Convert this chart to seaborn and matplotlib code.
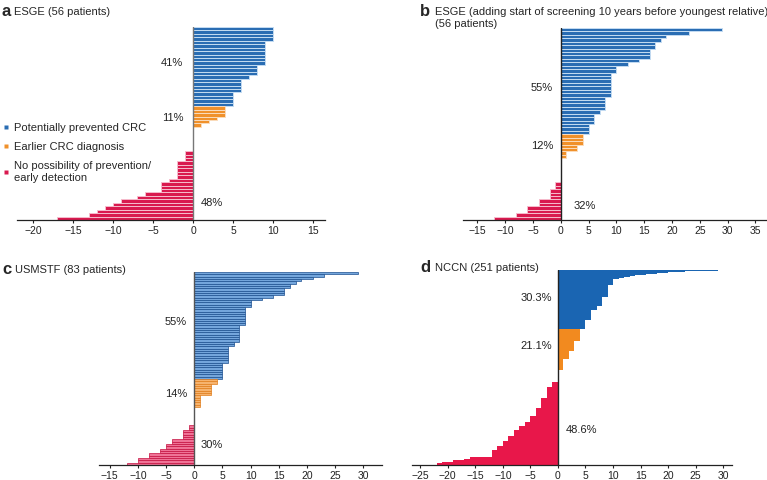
import numpy as np
import pandas as pd
import matplotlib
matplotlib.use("Agg")
import matplotlib.pyplot as plt
import seaborn as sns
from matplotlib.lines import Line2D
from matplotlib.colors import to_rgb

sns.set_style("white")
plt.rcParams['font.family'] = ['Liberation Sans', 'DejaVu Sans']

# values (years), with how many patients share each value
a_blue_vals, a_blue_n = [10, 9, 8, 7, 6, 5], [4, 7, 3, 1, 4, 4]
a_orange_vals, a_orange_n = [4, 3, 2, 1], [3, 1, 1, 1]
a_red_vals = [0, -1, -2, -3, -4, -6, -7, -9, -10, -11, -12, -13, -17]
a_red_n = [7, 3, 5, 1, 3, 1, 1, 1, 1, 1, 1, 1, 1]

b_blue_vals = [29, 23, 19, 18, 17, 16, 14, 12, 10, 9, 8, 7, 6, 5]
b_blue_n = [1, 1, 1, 1, 2, 3, 1, 1, 2, 7, 4, 1, 3, 3]
b_orange_vals, b_orange_n = [4, 3, 1], [3, 2, 2]
b_red_vals, b_red_n = [0, -1, -2, -4, -6, -8, -12], [7, 2, 3, 2, 2, 1, 1]

c_blue_vals = [29, 23, 21, 19, 18, 17, 16, 14, 12, 10, 9, 8, 7, 6, 5]
c_blue_n = [1, 1, 1, 1, 1, 2, 3, 1, 1, 3, 8, 7, 2, 7, 7]
c_orange_vals, c_orange_n = [4, 3, 1], [2, 5, 5]
c_red_vals = [0, -1, -2, -4, -5, -6, -8, -10, -12]
c_red_n = [8, 2, 4, 2, 2, 2, 2, 2, 1]

d_blue_vals = [29, 23, 22, 20, 18, 16, 15, 14, 13, 12, 11, 10, 9, 8, 7, 6, 5]
d_blue_n = [1, 1, 1, 1, 1, 1, 1, 1, 1, 1, 1, 8, 16, 11, 5, 14, 11]
d_orange_vals, d_orange_n = [4, 3, 2, 1], [16, 12, 11, 14]
d_red_vals = [0, -1, -2, -3, -4, -5, -6, -7, -8, -9, -10, -11, -12, -16, -17, -19, -21, -22]
d_red_n = [15, 7, 14, 12, 11, 8, 5, 5, 8, 6, 6, 6, 9, 2, 2, 2, 2, 2]

cats = ["Potentially prevented CRC", "Earlier CRC diagnosis",
        "No possibility of prevention/\nearly detection"]


def make_df(bv, bn, ov, on, rv, rn):
    vals = np.concatenate([np.repeat(bv, bn), np.repeat(ov, on), np.repeat(rv, rn)])
    cat = [cats[0]] * sum(bn) + [cats[1]] * sum(on) + [cats[2]] * sum(rn)
    return pd.DataFrame({"years": vals, "row": np.arange(len(vals)), "group": cat})


W, H = 767, 480
fig = plt.figure(figsize=(W / 100, H / 100), dpi=100)


def panel(df, box, xlim, ticks, palette, width, edges, elw, zcol, pct, letter, title, lpos, tpos):
    l, t, r, b = box
    ax = fig.add_axes([l / W, 1 - b / H, (r - l) / W, (b - t) / H])
    sns.barplot(data=df, x="years", y="row", hue="group", orient="y", palette=palette,
                hue_order=cats, dodge=False, width=width, errorbar=None, legend=False,
                saturation=1, ax=ax, linewidth=0)
    if edges is not None:
        lookup = {to_rgb(c): e for c, e in zip(palette, edges)}
        for p in ax.patches:
            fc = p.get_facecolor()[:3]
            for k, e in lookup.items():
                if np.allclose(fc, k, atol=0.01):
                    p.set_edgecolor(e)
                    p.set_linewidth(elw)
    n = len(df)
    ax.set_ylim(n - 0.5, -0.5)
    ax.set_xlim(*xlim)
    ax.set_xticks(ticks)
    ax.set_yticks([])
    ax.set_xlabel("")
    ax.set_ylabel("")
    for s in ["left", "top", "right"]:
        ax.spines[s].set_visible(False)
    ax.spines["bottom"].set_linewidth(0.9)
    ax.spines["bottom"].set_color("#222222")
    ax.tick_params(axis="x", direction="out", length=2.5, width=0.8, labelsize=7.5,
                   bottom=True, pad=1.5, colors="#222222")
    ax.axvline(0, color=zcol, lw=1.0, zorder=5)
    for x, y, s, ha in pct:
        ax.text(x, y, s, ha=ha, va="center", fontsize=8, color="#222222")
    fig.text(lpos[0] / W, 1 - lpos[1] / H, letter, fontsize=12, fontweight="bold",
             va="center", ha="left")
    fig.text(tpos[0] / W, 1 - tpos[1] / H, title, fontsize=8, va="center", ha="left",
             linespacing=1.2)
    return ax


pal_ab = ["#2a6db3", "#f0912b", "#d91a4f"]
edge_ab = ["#c4dcf2", "#fbdcbc", "#f6bccd"]
pal_c = ["#74a6dc", "#f6b36e", "#ef7396"]
edge_c = ["#1c4f8f", "#e07d1c", "#c4103f"]
pal_d = ["#1a65b2", "#f28a1f", "#e8174a"]

df_a = make_df(a_blue_vals, a_blue_n, a_orange_vals, a_orange_n, a_red_vals, a_red_n)
df_b = make_df(b_blue_vals, b_blue_n, b_orange_vals, b_orange_n, b_red_vals, b_red_n)
df_c = make_df(c_blue_vals, c_blue_n, c_orange_vals, c_orange_n, c_red_vals, c_red_n)
df_d = make_df(d_blue_vals, d_blue_n, d_orange_vals, d_orange_n, d_red_vals, d_red_n)

ax_a = panel(df_a, (17, 27, 325, 220), (-22, 16.5), range(-20, 16, 5), pal_ab, 1.0, edge_ab, 0.7,
             "#777777",
             [(-1.2, 10, "41%", "right"), (-1.2, 26, "11%", "right"), (1.0, 50.5, "48%", "left")],
             "a", "ESGE (56 patients)", (2, 12), (14, 12))
ax_b = panel(df_b, (463, 28, 767, 220), (-17.6, 37.1), range(-15, 36, 5), pal_ab, 1.0, edge_ab, 0.7,
             "#222222",
             [(-1.4, 17, "55%", "right"), (-1.4, 34, "12%", "right"), (2.3, 51.3, "32%", "left")],
             "b", "ESGE (adding start of screening 10 years before youngest relative)\n(56 patients)",
             (420, 12), (435, 18))
ax_c = panel(df_c, (99, 272, 382, 465), (-16.9, 33.3), range(-15, 31, 5), pal_c, 1.0, edge_c, 0.5,
             "#555555",
             [(-1.3, 21, "55%", "right"), (-1.3, 52, "14%", "right"), (1.1, 74, "30%", "left")],
             "c", "USMSTF (83 patients)", (2, 270), (15, 270))
ax_d = panel(df_d, (412, 270, 732, 465), (-26.5, 31.6), range(-25, 31, 5), pal_d, 1.0, None, 0,
             "#222222",
             [(-1.1, 36, "30.3%", "right"), (-1.1, 97, "21.1%", "right"), (1.4, 205, "48.6%", "left")],
             "d", "NCCN (251 patients)", (420, 268), (435, 268))

handles = [Line2D([0], [0], marker="s", color="none", markerfacecolor=c, markeredgecolor="none",
                  markersize=3.5) for c in pal_ab]
fig.legend(handles, cats, loc="upper left", bbox_to_anchor=(0.0, 1 - 121 / H), frameon=False,
           fontsize=8, handlelength=0.6, handletextpad=0.5, labelspacing=0.8, borderaxespad=0,
           borderpad=0.2)

fig.savefig("out.png", dpi=100)
